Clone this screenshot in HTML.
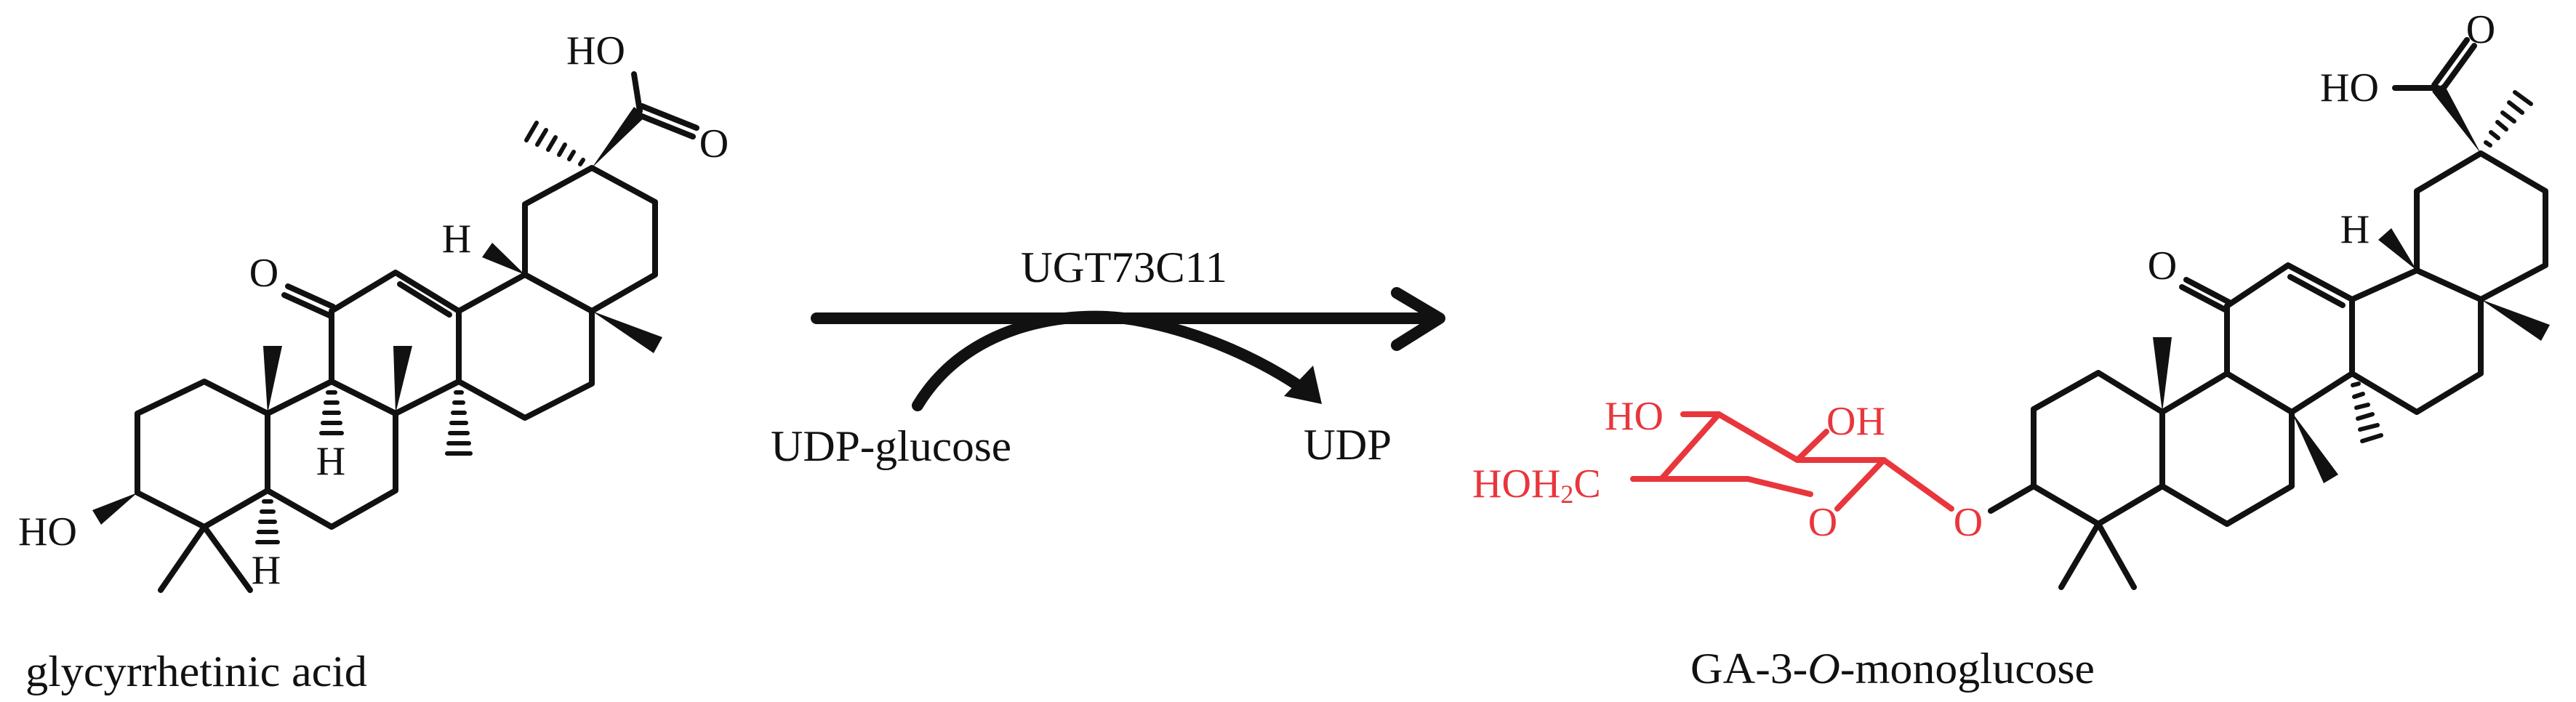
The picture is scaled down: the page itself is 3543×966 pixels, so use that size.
<!DOCTYPE html>
<html><head><meta charset="utf-8"><style>html,body{margin:0;padding:0;background:#fff}svg{display:block}</style></head><body>
<svg width="3543" height="966" viewBox="0 0 3543 966" xmlns="http://www.w3.org/2000/svg">
<g fill="none" stroke="#111" stroke-width="8" stroke-linejoin="round" stroke-linecap="round">
<!-- LEFT molecule rings -->
<polygon points="189,569 281,525 368,569 368,675 281,725 189,678"/>
<polygon points="368,569 456,525 544,569 544,675 456,725 368,675"/>
<polygon points="456,525 456,428 544,375 631,428 631,525 544,569"/>
<polygon points="631,428 722,378 814,428 814,528 722,575 631,525"/>
<polygon points="722,378 722,281 814,231 901,278 901,378 814,428"/>
<line x1="281" y1="725" x2="221" y2="812"/><line x1="281" y1="725" x2="344" y2="812"/>
<line x1="550" y1="391" x2="618" y2="433"/>
<line x1="458" y1="422" x2="396" y2="394"/><line x1="453" y1="434" x2="391" y2="406"/>
<line x1="880" y1="153" x2="872" y2="102"/>
<line x1="883" y1="146" x2="958" y2="176"/><line x1="878" y1="158" x2="953" y2="188"/>
<!-- hashes left -->
<g stroke-width="6">
<line x1="363" y1="690" x2="373" y2="690"/><line x1="360" y1="704" x2="376" y2="704"/><line x1="358" y1="718" x2="378" y2="718"/><line x1="356" y1="732" x2="380" y2="732"/><line x1="354" y1="746" x2="382" y2="746"/>
<line x1="451" y1="540" x2="461" y2="540"/><line x1="448" y1="554" x2="464" y2="554"/><line x1="446" y1="568" x2="466" y2="568"/><line x1="444" y1="582" x2="468" y2="582"/><line x1="442" y1="596" x2="470" y2="596"/>
<line x1="627" y1="540" x2="635" y2="540"/><line x1="625" y1="554" x2="637" y2="554"/><line x1="623" y1="568" x2="639" y2="568"/><line x1="621" y1="582" x2="641" y2="582"/><line x1="619" y1="596" x2="643" y2="596"/><line x1="617" y1="610" x2="645" y2="610"/><line x1="615" y1="624" x2="647" y2="624"/>
<line x1="802" y1="220" x2="798" y2="226"/><line x1="789" y1="209" x2="783" y2="219"/><line x1="777" y1="199" x2="769" y2="213"/><line x1="764" y1="189" x2="754" y2="206"/><line x1="751" y1="179" x2="739" y2="199"/><line x1="738" y1="169" x2="724" y2="193"/>
</g>
<!-- RIGHT molecule rings -->
<polygon points="2797,563 2886,513 2974,567 2974,669 2886,721 2797,669"/>
<polygon points="2974,567 3063,514 3152,567 3152,669 3063,721 2974,669"/>
<polygon points="3063,514 3063,421 3147,365 3235,412 3235,514 3152,567"/>
<polygon points="3235,412 3324,372 3412,412 3412,514 3324,567 3235,514"/>
<polygon points="3324,372 3324,263 3412,211 3501,263 3501,365 3412,412"/>
<line x1="2797" y1="669" x2="2738" y2="703"/>
<line x1="2886" y1="721" x2="2835" y2="808"/><line x1="2886" y1="721" x2="2935" y2="808"/>
<line x1="3150" y1="381" x2="3222" y2="420"/>
<line x1="3066" y1="416" x2="3007" y2="385"/><line x1="3060" y1="426" x2="3001" y2="395"/>
<line x1="3358" y1="125" x2="3403" y2="63"/><line x1="3348" y1="117" x2="3393" y2="55"/>
<line x1="3353" y1="121" x2="3294" y2="121"/>
<g stroke-width="6">
<line x1="3236" y1="530" x2="3244" y2="528"/><line x1="3238" y1="546" x2="3250" y2="542"/><line x1="3241" y1="561" x2="3257" y2="557"/><line x1="3243" y1="576" x2="3263" y2="570"/><line x1="3246" y1="591" x2="3270" y2="585"/><line x1="3249" y1="607" x2="3275" y2="599"/>
<line x1="3425" y1="200" x2="3419" y2="196"/><line x1="3436" y1="190" x2="3426" y2="182"/><line x1="3447" y1="178" x2="3435" y2="168"/><line x1="3458" y1="167" x2="3442" y2="155"/><line x1="3469" y1="155" x2="3451" y2="141"/><line x1="3481" y1="143" x2="3459" y2="127"/>
</g>
</g>
<!-- wedges -->
<g fill="#111" stroke="none">
<polygon points="189,678 127,702 139,722"/>
<polygon points="368,569 362,476 388,476"/>
<polygon points="544,569 541,476 567,476"/>
<polygon points="722,378 677,334 663,354"/>
<polygon points="814,428 899,486 911,464"/>
<polygon points="814,231 888,160 872,147"/>
<polygon points="2974,567 2961,464 2987,464"/>
<polygon points="3152,567 3196,665 3216,653"/>
<polygon points="3324,372 3289,314 3271,330"/>
<polygon points="3412,412 3495,469 3507,447"/>
<polygon points="3412,211 3361,115 3345,126"/>
</g>
<!-- glucose red -->
<g fill="none" stroke="#e8363c" stroke-width="8" stroke-linejoin="round" stroke-linecap="round">
<polyline points="2315,570 2364,570 2472,633 2591,633 2527,700"/>
<polyline points="2490,680 2404,659 2285,659 2364,570"/>
<line x1="2246" y1="659" x2="2285" y2="659"/>
<line x1="2472" y1="633" x2="2512" y2="594"/>
<line x1="2591" y1="633" x2="2684" y2="700"/>
</g>
<!-- arrow -->
<g stroke="#111" fill="none" stroke-width="16" stroke-linecap="round" stroke-linejoin="round">
<line x1="1123" y1="438" x2="1978" y2="438"/>
<polyline points="1921,403 1980,438 1921,475"/>
<path d="M1262,558 C1330,445 1470,425 1560,440 C1660,458 1740,500 1788,532"/>
</g>
<polygon points="1818,556 1766,545 1806,503" fill="#111"/>
<!-- text -->
<g font-family="'Liberation Serif', serif" font-size="56" fill="#111">
<text x="25" y="750">HO</text>
<text x="366" y="803" text-anchor="middle">H</text>
<text x="455" y="653" text-anchor="middle">H</text>
<text x="628" y="347" text-anchor="middle">H</text>
<text x="363" y="394" text-anchor="middle">O</text>
<text x="779" y="88">HO</text>
<text x="982" y="216" text-anchor="middle">O</text>
<text x="3191" y="139">HO</text>
<text x="3412" y="59" text-anchor="middle">O</text>
<text x="3239" y="334" text-anchor="middle">H</text>
<text x="2974" y="384" text-anchor="middle">O</text>
<text x="1404" y="388" font-size="60" textLength="284" lengthAdjust="spacingAndGlyphs">UGT73C11</text>
<text x="1060" y="634" font-size="60" textLength="331" lengthAdjust="spacingAndGlyphs">UDP-glucose</text>
<text x="1793" y="632" font-size="60" textLength="121" lengthAdjust="spacingAndGlyphs">UDP</text>
<text x="35" y="944" font-size="60" textLength="470" lengthAdjust="spacingAndGlyphs">glycyrrhetinic acid</text>
<text x="2325" y="940" font-size="60" textLength="556" lengthAdjust="spacingAndGlyphs">GA-3-<tspan font-style="italic">O</tspan>-monoglucose</text>
</g>
<g font-family="'Liberation Serif', serif" font-size="56" fill="#e8363c">
<text x="2207" y="591">HO</text>
<text x="2512" y="598">OH</text>
<text x="2025" y="684">HOH<tspan font-size="36" dy="8">2</tspan><tspan dy="-8">C</tspan></text>
<text x="2507" y="737" text-anchor="middle">O</text>
<text x="2707" y="737" text-anchor="middle">O</text>
</g>
</svg>
</body></html>
